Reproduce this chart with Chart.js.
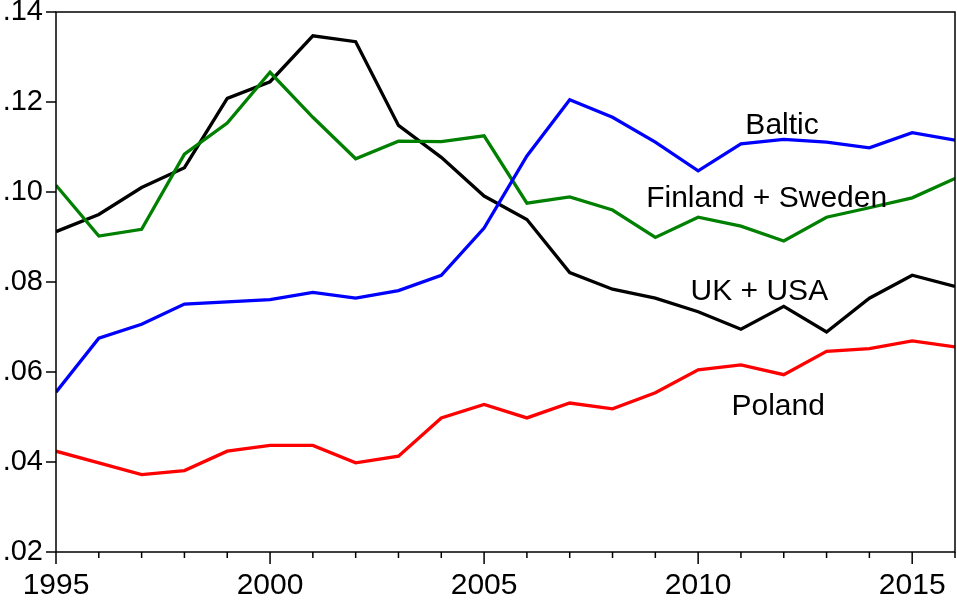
<!DOCTYPE html>
<html>
<head>
<meta charset="utf-8">
<script src="https://cdn.jsdelivr.net/npm/chart.js@4.4.0/dist/chart.umd.min.js"></script>
<style>
html, body { margin: 0; padding: 0; background: #fff; }
#wrap { width: 957px; height: 601px; }
</style>
</head>
<body>
<div id="wrap"><canvas id="chart"></canvas></div>
<script>
// data
const years = [1995, 1996, 1997, 1998, 1999, 2000, 2001, 2002, 2003, 2004, 2005,
               2006, 2007, 2008, 2009, 2010, 2011, 2012, 2013, 2014, 2015, 2016];
const baltic = [0.0555, 0.0675, 0.0706, 0.0751, 0.0756, 0.0761, 0.0777, 0.0764, 0.0781, 0.0815, 0.0920,
                0.1080, 0.1205, 0.1166, 0.1111, 0.1047, 0.1107, 0.1117, 0.1111, 0.1098, 0.1132, 0.1115];
const finSwe = [0.1015, 0.0902, 0.0917, 0.1084, 0.1153, 0.1266, 0.1166, 0.1074, 0.1113, 0.1112, 0.1125,
                0.0975, 0.0989, 0.0960, 0.0899, 0.0944, 0.0924, 0.0891, 0.0944, 0.0965, 0.0987, 0.1030];
const ukUsa = [0.0912, 0.0950, 0.1010, 0.1054, 0.1208, 0.1245, 0.1347, 0.1334, 0.1148, 0.1077, 0.0991,
               0.0939, 0.0821, 0.0784, 0.0764, 0.0734, 0.0695, 0.0746, 0.0689, 0.0764, 0.0815, 0.0790];
const poland = [0.0424, 0.0398, 0.0372, 0.0381, 0.0424, 0.0437, 0.0437, 0.0398, 0.0413, 0.0498, 0.0528,
                0.0498, 0.0531, 0.0518, 0.0554, 0.0605, 0.0616, 0.0594, 0.0646, 0.0652, 0.0669, 0.0656];

const seriesNames = ["Baltic", "Finland + Sweden", "UK + USA", "Poland"];
const yTicks = [0.02, 0.04, 0.06, 0.08, 0.10, 0.12, 0.14];
const xLabelYears = [1995, 2000, 2005, 2010, 2015];

const seriesColors = ["#0000ff", "#008000", "#000000", "#ff0000"];
// baseline anchor of each series name, in data units (year, value)
const nameAt = [[2011.96, 0.1128], [2011.6, 0.0966], [2011.43, 0.0760], [2011.87, 0.0505]];

const FONT = '"Liberation Sans", Arial, Helvetica, sans-serif';

function pts(vals) {
    return years.map(function (yr, i) { return { x: yr, y: vals[i] }; });
}

const frameAndNames = {
    id: "frameAndNames",
    afterDatasetsDraw(chart) {
        const ctx = chart.ctx;
        const a = chart.chartArea;
        const xs = chart.scales.x;
        const ys = chart.scales.y;
        ctx.save();
        ctx.strokeStyle = "#000";
        ctx.lineWidth = 1.5;
        ctx.strokeRect(a.left, a.top, a.right - a.left, a.bottom - a.top);

        // tick marks: yearly short, every 5 years longer
        ctx.beginPath();
        years.forEach(function (yr) {
            const px = xs.getPixelForValue(yr);
            const len = yr % 5 === 0 ? 12 : 6;
            ctx.moveTo(px, a.bottom);
            ctx.lineTo(px, a.bottom + len);
        });
        yTicks.forEach(function (v) {
            const py = ys.getPixelForValue(v);
            ctx.moveTo(a.left - 10, py);
            ctx.lineTo(a.left, py);
        });
        ctx.stroke();

        ctx.font = "30px " + FONT;
        ctx.fillStyle = "#000";
        ctx.textAlign = "center";
        ctx.textBaseline = "alphabetic";
        seriesNames.forEach(function (name, i) {
            ctx.fillText(name, xs.getPixelForValue(nameAt[i][0]), ys.getPixelForValue(nameAt[i][1]));
        });
        ctx.restore();
    }
};

const ctx = document.getElementById("chart");

new Chart(ctx, {
    type: "line",
    data: {
        datasets: [
            { label: seriesNames[0], data: pts(baltic), borderColor: seriesColors[0] },
            { label: seriesNames[1], data: pts(finSwe), borderColor: seriesColors[1] },
            { label: seriesNames[2], data: pts(ukUsa), borderColor: seriesColors[2] },
            { label: seriesNames[3], data: pts(poland), borderColor: seriesColors[3] }
        ]
    },
    options: {
        responsive: true,
        maintainAspectRatio: false,
        animation: false,
        devicePixelRatio: 1,
        layout: { padding: { top: 12, right: 2, left: 0, bottom: 0 } },
        elements: {
            line: { borderWidth: 3.3, tension: 0, borderJoinStyle: "miter" },
            point: { radius: 0, hoverRadius: 0 }
        },
        plugins: {
            legend: { display: false },
            tooltip: { enabled: false }
        },
        scales: {
            x: {
                type: "linear",
                min: 1995,
                max: 2016,
                grid: { display: false, drawTicks: false },
                border: { display: false },
                afterBuildTicks: function (s) {
                    s.ticks = years.map(function (v) { return { value: v }; });
                },
                afterFit: function (s) {
                    s.height = 49;
                    s.paddingLeft = 0;
                    s.paddingRight = 0;
                },
                ticks: {
                    autoSkip: false,
                    maxRotation: 0,
                    padding: 16,
                    color: "#000",
                    font: { family: FONT, size: 30 },
                    callback: function (v) {
                        return xLabelYears.indexOf(v) >= 0 ? String(v) : "";
                    }
                }
            },
            y: {
                min: 0.02,
                max: 0.14,
                grid: { display: false, drawTicks: false },
                border: { display: false },
                afterBuildTicks: function (s) {
                    s.ticks = yTicks.map(function (v) { return { value: v }; });
                },
                afterFit: function (s) {
                    s.width = 56;
                    s.paddingTop = 0;
                    s.paddingBottom = 0;
                },
                ticks: {
                    padding: 13,
                    color: "#000",
                    font: { family: FONT, size: 29 },
                    callback: function (v) {
                        return v.toFixed(2).replace(/^0/, "");
                    }
                }
            }
        }
    },
    plugins: [frameAndNames]
});
</script>
</body>
</html>
